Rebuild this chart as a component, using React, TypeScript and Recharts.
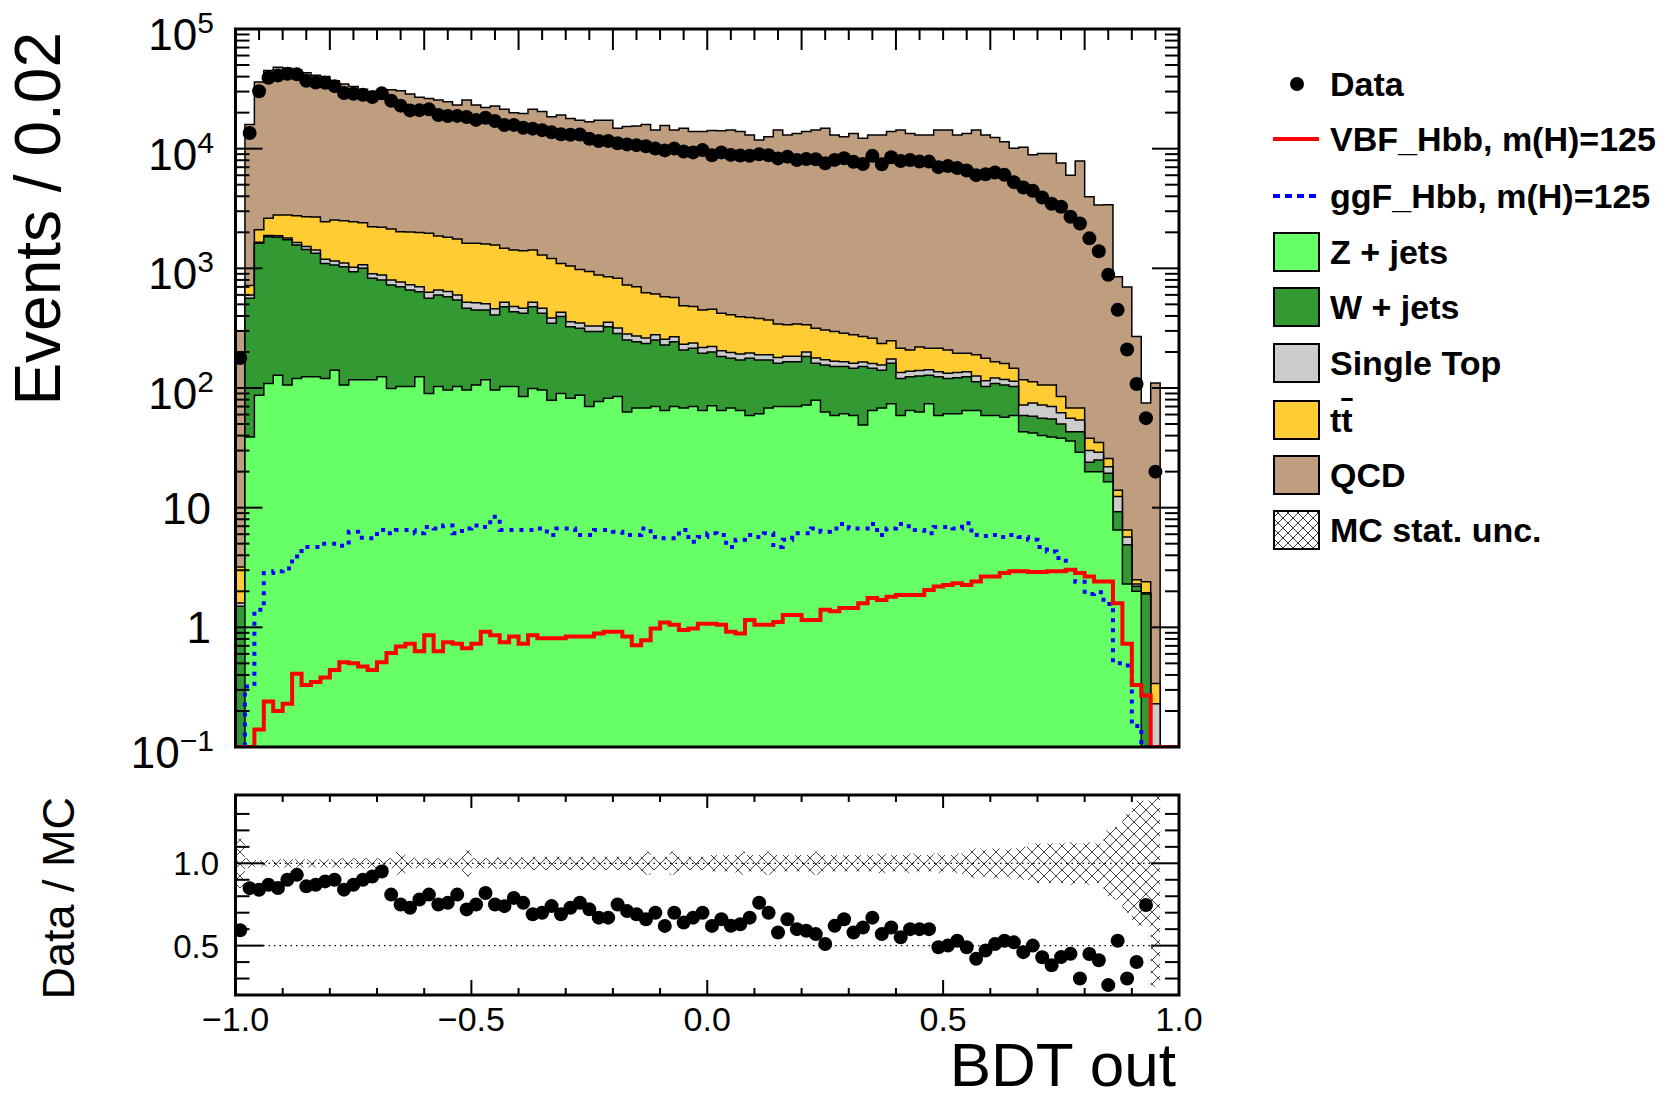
import React from "react";
import { Area, ComposedChart, Line, ReferenceLine, Scatter, XAxis, YAxis } from "recharts";

// 100 bins of width 0.02 on [-1, 1]
const X_MIN = -1;
const BIN_W = 0.02;
const N_BINS = 100;

// per-bin contents
const zJets = [
  0, 39, 87, 109, 128, 106, 120, 124, 124, 120,
  141, 106, 117, 117, 117, 124, 99, 103, 103, 124,
  90, 103, 96, 103, 96, 106, 117, 96, 103, 103,
  85, 99, 96, 79, 90, 82, 87, 70, 77, 82,
  85, 63, 68, 68, 70, 65, 70, 68, 70, 65,
  71, 65, 68, 65, 59, 61, 68, 70, 70, 70,
  72, 79, 63, 59, 61, 59, 49, 65, 68, 74,
  59, 65, 63, 74, 59, 61, 61, 65, 65, 59,
  59, 57, 59, 43, 42, 40, 39, 38, 36, 29,
  20, 20, 16.5, 6.5, 2.3, 2.0, 0, 0, 0, 0,
];
const wJets = [
  1.5, 522, 1533, 1731, 1692, 1624, 1450, 1316, 1211, 980,
  925, 927, 821, 883, 708, 676, 626, 599, 556, 514,
  471, 496, 484, 440, 367, 343, 332, 312, 375, 331,
  336, 379, 325, 268, 305, 243, 228, 226, 219, 243,
  201, 189, 176, 168, 182, 164, 174, 140, 145, 130,
  129, 118, 109, 106, 118, 110, 103, 91, 96, 96,
  111, 82, 93, 92, 90, 87, 102, 81, 73, 87,
  61, 59, 63, 54, 65, 59, 61, 59, 48, 44,
  50, 49, 44, 16, 16, 16, 16, 12, 7, 14,
  4, 5, 2.9, 2.75, 2.6, 0.2, 1.9, 0, 0, 0,
];
const singleTop = [
  0.1, 39, 30, 40, 50, 60, 70, 80, 85, 90,
  84, 77, 82, 70, 75, 80, 75, 68, 71, 62,
  69, 61, 60, 57, 57, 67, 56, 52, 42, 46,
  44, 42, 44, 38, 35, 33, 35, 34, 34, 30,
  32, 30, 28, 26, 26, 26, 24, 24, 23, 23,
  22, 22, 21, 21, 19, 19, 19, 19, 18, 18,
  17, 17, 16, 16, 15, 15, 14, 14, 15, 14,
  15, 14, 14, 14, 13, 13, 13, 13, 13, 12,
  12, 12, 11, 13, 17, 16, 15, 12, 13, 11,
  6, 4, 2.6, 3.15, 0.8, 0.1, 0.05, 0.23, 0, 0,
];
const ttbar = [
  1.6, 120, 450, 740, 920, 1000, 1110, 1180, 1260, 1260,
  1390, 1390, 1430, 1330, 1330, 1320, 1330, 1250, 1280, 1290,
  1330, 1200, 1180, 1160, 1100, 1104, 1095, 1110, 950, 940,
  935, 900, 825, 825, 670, 687, 630, 610, 550, 495,
  507, 443, 428, 363, 332, 325, 302, 255, 242, 230,
  233, 216, 212, 202, 192, 190, 180, 163, 153, 159,
  137, 137, 133, 129, 121, 117, 104, 100, 80, 73,
  80, 70, 80, 73, 78, 75, 60, 58, 64, 62,
  45, 42, 32, 45, 38, 34, 36, 23, 12, 14,
  8, 6, 3.8, 1.6, 0.8, 0.2, 0.45, 0.11, 0, 0,
];
const qcd = [
  297, 15180, 33900, 42380, 45210, 44210, 42250, 40300, 38320, 37550,
  34460, 32200, 30550, 28900, 27170, 28300, 28870, 28480, 26590, 24910,
  24340, 23640, 22880, 21440, 23880, 21580, 20500, 21130, 19830, 18580,
  18300, 19880, 19110, 17290, 18000, 16855, 16320, 15860, 16420, 16450,
  13975, 14575, 14800, 15275, 13690, 15020, 13730, 14313, 13420, 13452,
  13745, 13679, 13890, 13506, 12612, 11420, 12230, 13957, 12663, 13057,
  13563, 13985, 14495, 12704, 12313, 13122, 11931, 12740, 12764, 13652,
  14085, 13192, 12780, 12785, 14085, 14092, 12805, 13205, 14110, 12823,
  12234, 11240, 9954, 10183, 8787, 8994, 8994, 7515, 5932, 7832,
  3922, 3345, 3374, 836, 693, 267, 72.6, 109.7, 0, 0,
];
const dataCounts = [
  178, 13500, 30200, 39150, 40800, 42300, 41850, 36980, 35670, 35600,
  33300, 29150, 28710, 28170, 27050, 28980, 25110, 22880, 20880, 20980,
  21300, 19130, 18770, 18790, 18360, 17400, 18120, 17030, 15760, 15800,
  14970, 14700, 14280, 13690, 13180, 13070, 13150, 12100, 11590, 11590,
  11100, 10860, 10700, 10490, 10010, 9670, 10010, 9470, 9310, 9730,
  8800, 9310, 8870, 8760, 8710, 8970, 8820, 8290, 8580, 8040,
  8200, 8150, 7550, 8060, 8320, 7770, 7440, 8710, 7410, 8480,
  7870, 8040, 7800, 7800, 7010, 7150, 6890, 6570, 6010, 6110,
  6320, 6040, 5250, 4740, 4450, 3910, 3460, 3270, 2700, 2370,
  1780, 1390, 884, 450, 210, 108, 56, 20, 0, 0,
];
const vbfHbb = [
  0, 0, 0.14, 0.24, 0.2, 0.23, 0.41, 0.33, 0.35, 0.38,
  0.44, 0.51, 0.5, 0.47, 0.44, 0.51, 0.61, 0.69, 0.73, 0.63,
  0.86, 0.63, 0.75, 0.73, 0.67, 0.73, 0.92, 0.86, 0.75, 0.84,
  0.73, 0.86, 0.81, 0.81, 0.81, 0.84, 0.84, 0.84, 0.89, 0.92,
  0.92, 0.84, 0.71, 0.78, 0.98, 1.1, 1.05, 0.95, 0.98, 1.07,
  1.07, 1.05, 0.92, 0.89, 1.15, 1.05, 1.05, 1.11, 1.27, 1.27,
  1.15, 1.15, 1.4, 1.36, 1.45, 1.45, 1.59, 1.76, 1.69, 1.8,
  1.86, 1.86, 1.86, 2.05, 2.19, 2.26, 2.33, 2.26, 2.42, 2.66,
  2.66, 2.84, 2.94, 2.94, 2.9, 2.9, 2.94, 2.94, 3.03, 2.84,
  2.66, 2.42, 2.42, 1.59, 0.73, 0.33, 0.27, 0, 0, 0,
];
const ggfHbb = [
  0, 0.32, 1.4, 2.84, 2.94, 3.1, 3.9, 4.7, 4.7, 5.0,
  5.0, 4.8, 6.3, 5.6, 5.55, 6.5, 6.1, 6.5, 6.5, 6.1,
  6.9, 6.7, 7.1, 6.1, 6.7, 7.1, 6.9, 8.4, 6.5, 6.5,
  6.5, 6.5, 6.7, 5.9, 6.7, 6.7, 5.9, 5.9, 6.5, 6.5,
  6.3, 5.9, 5.9, 6.7, 5.7, 5.55, 5.55, 6.5, 5.2, 5.7,
  6.1, 5.9, 4.7, 5.4, 5.9, 5.7, 6.1, 4.7, 5.4, 6.1,
  6.1, 6.7, 6.3, 6.7, 7.3, 6.7, 6.7, 7.3, 5.9, 6.7,
  7.3, 7.0, 6.5, 6.1, 6.9, 6.9, 6.7, 7.4, 5.9, 5.8,
  5.9, 5.7, 5.9, 5.7, 5.4, 4.7, 4.3, 3.8, 3.0, 2.4,
  1.9, 1.96, 1.57, 0.5, 0.48, 0.15, 0, 0, 0, 0,
];
// relative MC statistical uncertainty
const mcUnc = [
  0.15, 0.03, 0.02, 0.02, 0.025, 0.025, 0.025, 0.025, 0.025, 0.025,
  0.025, 0.03, 0.03, 0.03, 0.03, 0.03, 0.03, 0.07, 0.03, 0.03,
  0.03, 0.03, 0.03, 0.03, 0.08, 0.03, 0.03, 0.035, 0.035, 0.035,
  0.035, 0.04, 0.04, 0.04, 0.04, 0.04, 0.04, 0.04, 0.04, 0.04,
  0.04, 0.04, 0.04, 0.07, 0.04, 0.04, 0.07, 0.04, 0.04, 0.04,
  0.05, 0.05, 0.05, 0.07, 0.05, 0.05, 0.07, 0.05, 0.05, 0.05,
  0.05, 0.07, 0.05, 0.05, 0.05, 0.05, 0.05, 0.05, 0.06, 0.05,
  0.05, 0.06, 0.05, 0.05, 0.06, 0.05, 0.06, 0.08, 0.09, 0.08,
  0.09, 0.08, 0.09, 0.1, 0.12, 0.12, 0.12, 0.12, 0.13, 0.12,
  0.13, 0.12, 0.2, 0.22, 0.3, 0.38, 0.38, 0.75, 0, 0,
];

const COLORS = {
  qcd: "#bf9e80",
  ttbar: "#ffcc33",
  singleTop: "#cccccc",
  wJets: "#339933",
  zJets: "#66ff66",
  vbf: "#ff0000",
  ggf: "#0000ff",
};

// layout (page pixels)
const W = 1677;
const H = 1099;
const PLOT_L = 235.5;
const PLOT_R = 1179;
const MAIN_T = 29;
const MAIN_B = 747;
const RATIO_T = 795;
const RATIO_B = 995;
const FONT = '"Liberation Sans", Arial, Helvetica, sans-serif';

const Y_MIN = 0.1;
const R_MIN = 0.2;
const R_MAX = 1.415;
const floorY = (v: number) => Math.max(v, Y_MIN);

// step rows at bin low edges plus the closing edge at x = 1
const mainRows: any[] = [];
const ratioRows: any[] = [];
for (let i = 0; i <= N_BINS; i++) {
  const k = Math.min(i, N_BINS - 1);
  const z = zJets[k];
  const w = z + wJets[k];
  const st = w + singleTop[k];
  const tt = st + ttbar[k];
  const tot = tt + qcd[k];
  const x = +(X_MIN + i * BIN_W).toFixed(2);
  mainRows.push({
    x,
    z: floorY(z),
    w: floorY(w),
    st: floorY(st),
    tt: floorY(tt),
    total: floorY(tot),
    vbf: floorY(vbfHbb[k]),
    ggf: floorY(ggfHbb[k]),
  });
  const u = mcUnc[k];
  ratioRows.push({ x, band: [1 - u, 1 + u] });
}

const dataPts: any[] = [];
const ratioPts: any[] = [];
for (let i = 0; i < N_BINS; i++) {
  const cx = +(X_MIN + (i + 0.5) * BIN_W).toFixed(3);
  const mc = zJets[i] + wJets[i] + singleTop[i] + ttbar[i] + qcd[i];
  if (dataCounts[i] > 0) {
    dataPts.push({ x: cx, y: dataCounts[i] });
    const r = mc > 0 ? dataCounts[i] / mc : 0;
    if (r >= R_MIN && r <= R_MAX) ratioPts.push({ x: cx, y: r });
  }
}

// ticks
const logTicks: number[] = [];
for (let e = -1; e <= 5; e++) {
  for (let m = 1; m <= 9; m++) {
    const v = m * Math.pow(10, e);
    if (v <= 1e5 + 1) logTicks.push(v);
  }
}
const topTicks: number[] = [];
for (let k = 0; k <= 40; k++) topTicks.push(+(-1 + k * 0.05).toFixed(2));
const ratioXTicks: number[] = [];
for (let k = 0; k <= 20; k++) ratioXTicks.push(+(-1 + k * 0.1).toFixed(1));
const ratioYTicks = [0.3, 0.4, 0.5, 0.6, 0.7, 0.8, 0.9, 1.0, 1.1, 1.2, 1.3];

const near = (a: number, b: number) => Math.abs(a - b) < 1e-6;

const DecadeLabel = ({ e, y }: { e: number; y: number }) => {
  if (e === 0 || e === 1) {
    return (
      <text x={211} y={y + 16} textAnchor="end" fontSize={44} fill="#000" fontFamily={FONT}>
        {e === 0 ? "1" : "10"}
      </text>
    );
  }
  return (
    <text x={214} y={y + 21} textAnchor="end" fontSize={44} fill="#000" fontFamily={FONT}>
      10
      <tspan dy={-17} fontSize={30}>
        {e < 0 ? "\u2212" + -e : String(e)}
      </tspan>
    </text>
  );
};

const MainYTick = (props: any) => {
  const y = props.payload?.coordinate ?? props.y;
  const v = props.payload.value;
  const lg = Math.log10(v);
  const e = Math.round(lg);
  const major = near(lg, e);
  const len = major ? 27 : 14;
  return (
    <g>
      <line x1={PLOT_L} x2={PLOT_L + len} y1={y} y2={y} stroke="#000" strokeWidth={2} />
      <line x1={PLOT_R - len} x2={PLOT_R} y1={y} y2={y} stroke="#000" strokeWidth={2} />
      {major && <DecadeLabel e={e} y={y} />}
    </g>
  );
};

const MainXTick = (props: any) => {
  const x = props.payload?.coordinate ?? props.x;
  const v = props.payload.value;
  const long = near(v * 5, Math.round(v * 5));
  const len = long ? 21 : 11;
  return <line x1={x} x2={x} y1={MAIN_T} y2={MAIN_T + len} stroke="#000" strokeWidth={2} />;
};

const RatioYTick = (props: any) => {
  const y = props.payload?.coordinate ?? props.y;
  const v = props.payload.value;
  const major = near(v, 0.5) || near(v, 1);
  const len = major ? 28 : 14;
  return (
    <g>
      <line x1={PLOT_L} x2={PLOT_L + len} y1={y} y2={y} stroke="#000" strokeWidth={2} />
      <line x1={PLOT_R - len} x2={PLOT_R} y1={y} y2={y} stroke="#000" strokeWidth={2} />
      {major && (
        <text x={219} y={y + 12} textAnchor="end" fontSize={33} fill="#000" fontFamily={FONT}>
          {v.toFixed(1)}
        </text>
      )}
    </g>
  );
};

const RatioXTick = (props: any) => {
  const x = props.payload?.coordinate ?? props.x;
  const v = props.payload.value;
  const major = near(v * 2, Math.round(v * 2));
  const label = (v < -1e-9 ? "\u2212" : "") + Math.abs(v).toFixed(1);
  return (
    <g>
      <line x1={x} x2={x} y1={RATIO_B - (major ? 15 : 7)} y2={RATIO_B} stroke="#000" strokeWidth={2} />
      <line x1={x} x2={x} y1={RATIO_T} y2={RATIO_T + (major ? 13 : 7)} stroke="#000" strokeWidth={2} />
      {major && (
        <text x={x} y={1031} textAnchor="middle" fontSize={34} fill="#000" fontFamily={FONT}>
          {label}
        </text>
      )}
    </g>
  );
};

const DataDot = (p: any) =>
  p.cx == null || p.cy == null ? <g /> : <circle cx={p.cx} cy={p.cy} r={7} fill="#000" />;

const legendItems = [
  { key: "data", label: "Data", y: 84 },
  { key: "vbf", label: "VBF_Hbb, m(H)=125", y: 139 },
  { key: "ggf", label: "ggF_Hbb, m(H)=125", y: 196 },
  { key: "zJets", label: "Z + jets", y: 252 },
  { key: "wJets", label: "W + jets", y: 307 },
  { key: "singleTop", label: "Single Top", y: 363 },
  { key: "ttbar", label: "tt", y: 420 },
  { key: "qcd", label: "QCD", y: 475 },
  { key: "unc", label: "MC stat. unc.", y: 530 },
];

const LegendSymbol = ({ kind }: { kind: string }) => {
  if (kind === "data") {
    return (
      <svg width={50} height={44}>
        <circle cx={24} cy={22} r={7} fill="#000" />
      </svg>
    );
  }
  if (kind === "vbf") {
    return (
      <svg width={50} height={44}>
        <line x1={0} x2={46} y1={22} y2={22} stroke={COLORS.vbf} strokeWidth={4} />
      </svg>
    );
  }
  if (kind === "ggf") {
    return (
      <svg width={50} height={44}>
        <line x1={0} x2={46} y1={22} y2={22} stroke={COLORS.ggf} strokeWidth={4} strokeDasharray="7 5" />
      </svg>
    );
  }
  if (kind === "unc") {
    return (
      <svg width={50} height={44}>
        <defs>
          <pattern id="legHatch" width={10} height={10} patternUnits="userSpaceOnUse">
            <path d="M0,0 L10,10 M10,0 L0,10" stroke="#222" strokeWidth={0.9} />
          </pattern>
        </defs>
        <rect x={1} y={3} width={45} height={38} fill="url(#legHatch)" stroke="#000" strokeWidth={2} />
      </svg>
    );
  }
  return (
    <svg width={50} height={44}>
      <rect x={1} y={3} width={45} height={38} fill={(COLORS as any)[kind]} stroke="#000" strokeWidth={2} />
    </svg>
  );
};

export default function App() {
  return (
    <div style={{ position: "absolute", left: 0, top: 0, width: W, height: H, background: "#fff", fontFamily: FONT }}>
      {/* upper pad */}
      <div style={{ position: "absolute", left: 0, top: 0 }}>
        <ComposedChart
          width={W}
          height={H}
          data={mainRows}
          margin={{ top: MAIN_T, right: W - PLOT_R, bottom: H - MAIN_B - 1, left: PLOT_L - 1 }}
        >
          <Area dataKey="total" type="stepAfter" baseValue={Y_MIN} fill={COLORS.qcd} fillOpacity={1} stroke="#000" strokeWidth={1.5} isAnimationActive={false} />
          <Area dataKey="tt" type="stepAfter" baseValue={Y_MIN} fill={COLORS.ttbar} fillOpacity={1} stroke="#000" strokeWidth={1.5} isAnimationActive={false} />
          <Area dataKey="st" type="stepAfter" baseValue={Y_MIN} fill={COLORS.singleTop} fillOpacity={1} stroke="#000" strokeWidth={1.5} isAnimationActive={false} />
          <Area dataKey="w" type="stepAfter" baseValue={Y_MIN} fill={COLORS.wJets} fillOpacity={1} stroke="#000" strokeWidth={1.5} isAnimationActive={false} />
          <Area dataKey="z" type="stepAfter" baseValue={Y_MIN} fill={COLORS.zJets} fillOpacity={1} stroke="#000" strokeWidth={1.5} isAnimationActive={false} />
          <Line dataKey="ggf" type="stepAfter" stroke={COLORS.ggf} strokeWidth={4} strokeDasharray="4 6" dot={false} isAnimationActive={false} />
          <Line dataKey="vbf" type="stepAfter" stroke={COLORS.vbf} strokeWidth={4} dot={false} isAnimationActive={false} />
          <Scatter data={dataPts} dataKey="y" shape={DataDot} isAnimationActive={false} />
          <XAxis dataKey="x" type="number" domain={[-1, 1]} allowDataOverflow ticks={topTicks} interval={0} height={1} axisLine={false} tickLine={false} tick={MainXTick} />
          <YAxis type="number" scale="log" domain={[Y_MIN, 1e5]} allowDataOverflow ticks={logTicks} interval={0} width={1} axisLine={false} tickLine={false} tick={MainYTick} />
        </ComposedChart>
      </div>

      {/* ratio pad */}
      <div style={{ position: "absolute", left: 0, top: 0 }}>
        <ComposedChart
          width={W}
          height={H}
          data={ratioRows}
          margin={{ top: RATIO_T, right: W - PLOT_R, bottom: H - RATIO_B - 1, left: PLOT_L - 1 }}
        >
          <defs>
            <pattern id="mcHatch" width={12} height={12} patternUnits="userSpaceOnUse">
              <path d="M0,0 L12,12 M12,0 L0,12" stroke="#333" strokeWidth={0.9} />
            </pattern>
          </defs>
          <Area dataKey="band" type="stepAfter" fill="url(#mcHatch)" fillOpacity={1} stroke="none" isAnimationActive={false} />
          <ReferenceLine y={1} stroke="#000" strokeWidth={1.2} strokeDasharray="1.5 4" />
          <ReferenceLine y={0.5} stroke="#000" strokeWidth={1.2} strokeDasharray="1.5 4" />
          <Scatter data={ratioPts} dataKey="y" shape={DataDot} isAnimationActive={false} />
          <XAxis dataKey="x" type="number" domain={[-1, 1]} allowDataOverflow ticks={ratioXTicks} interval={0} height={1} axisLine={false} tickLine={false} tick={RatioXTick} />
          <YAxis type="number" domain={[R_MIN, R_MAX]} allowDataOverflow ticks={ratioYTicks} interval={0} width={1} axisLine={false} tickLine={false} tick={RatioYTick} />
        </ComposedChart>
      </div>

      {/* frames and axis titles */}
      <svg width={W} height={H} style={{ position: "absolute", left: 0, top: 0, pointerEvents: "none" }}>
        <rect x={PLOT_L} y={MAIN_T} width={PLOT_R - PLOT_L} height={MAIN_B - MAIN_T} fill="none" stroke="#000" strokeWidth={3} />
        <rect x={PLOT_L} y={RATIO_T} width={PLOT_R - PLOT_L} height={RATIO_B - RATIO_T} fill="none" stroke="#000" strokeWidth={3} />
        <text transform="rotate(-90)" x={-32} y={60} textAnchor="end" fontSize={64} fill="#000" fontFamily={FONT}>
          Events / 0.02
        </text>
        <text transform="rotate(-90)" x={-797} y={74} textAnchor="end" fontSize={45} fill="#000" fontFamily={FONT}>
          Data / MC
        </text>
        <text x={1176} y={1086} textAnchor="end" fontSize={62} fill="#000" fontFamily={FONT}>
          BDT out
        </text>
      </svg>

      {/* legend */}
      {legendItems.map((it) => (
        <div
          key={it.key}
          style={{
            position: "absolute",
            left: 1273,
            top: it.y - 22,
            height: 44,
            display: "flex",
            alignItems: "center",
            whiteSpace: "nowrap",
          }}
        >
          <LegendSymbol kind={it.key} />
          <span style={{ marginLeft: 7, fontSize: 34, fontWeight: 700, lineHeight: "44px", color: "#000" }}>
            {it.key === "ttbar" ? (
              <>
                t<span style={{ textDecoration: "overline" }}>t</span>
              </>
            ) : (
              it.label
            )}
          </span>
        </div>
      ))}
    </div>
  );
}
